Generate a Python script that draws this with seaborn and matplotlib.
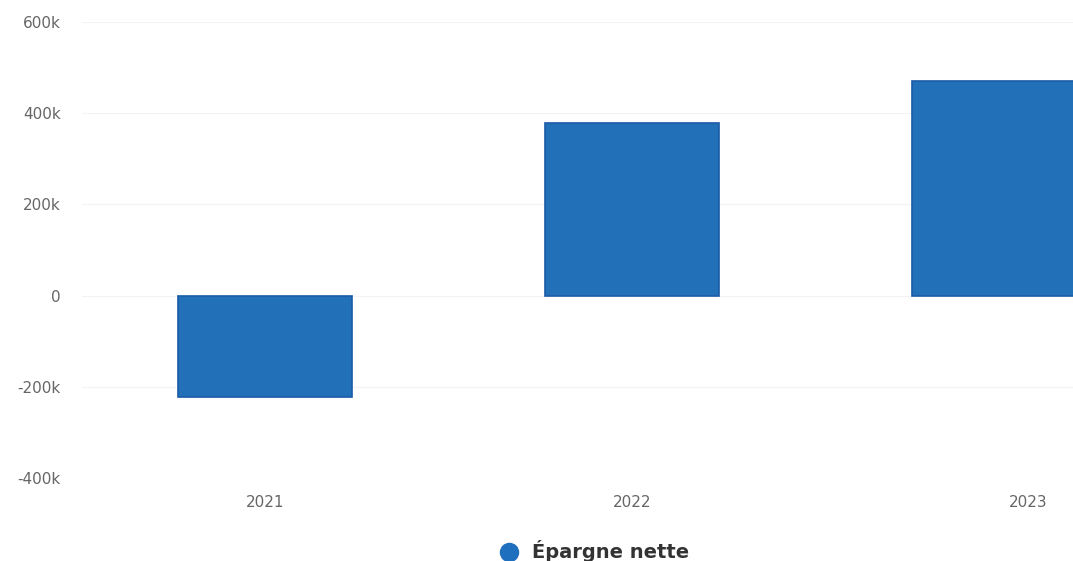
import matplotlib
matplotlib.use("Agg")
import pandas as pd
import seaborn as sns
import matplotlib.pyplot as plt
import matplotlib.transforms as mtransforms
from matplotlib.lines import Line2D
from matplotlib.ticker import FuncFormatter

# valeurs
annees = ["2021", "2022", "2023"]
epargne_nette = [-222000, 378000, 470000]
serie = "Épargne nette"

df = pd.DataFrame({"annee": annees, "valeur": epargne_nette})

sns.set_style("white")
plt.rcParams['font.family'] = ['DejaVu Sans']

fig = plt.figure(figsize=(10.73, 5.61), dpi=100)
# l'axe déborde à droite comme sur la capture
ax = fig.add_axes([0.076, 0.148, 1.026, 0.813])

sns.barplot(data=df, x="annee", y="valeur", color="#2170B8", width=0.474,
            saturation=1, edgecolor="#1A5BA6", linewidth=1.2, ax=ax, zorder=3)

ax.set_ylim(-400000, 600000)
ax.set_yticks([-400000, -200000, 0, 200000, 400000, 600000])

def fmt_k(v, pos):
    if v == 0:
        return "0"
    return f"{int(v / 1000)}k"

ax.yaxis.set_major_formatter(FuncFormatter(fmt_k))
ax.grid(axis="y", color="#f3f3f3", linewidth=0.8, zorder=0)
for s in ax.spines.values():
    s.set_visible(False)
ax.tick_params(axis="both", length=0, labelsize=11, labelcolor="#666666")
ax.tick_params(axis="y", pad=15)
ax.tick_params(axis="x", pad=12)
ax.set_xlabel("")
ax.set_ylabel("")

# le dernier libellé est décalé vers la droite dans la capture
fig.canvas.draw()
dernier = ax.get_xticklabels()[-1]
dernier.set_transform(dernier.get_transform() +
                      mtransforms.ScaledTranslation(0.29, 0, fig.dpi_scale_trans))

handle = Line2D([], [], marker="o", linestyle="", markersize=13,
                markerfacecolor="#1F6FBF", markeredgecolor="#1F6FBF")
fig.legend([handle], [serie], loc="center", bbox_to_anchor=(0.549, 0.017),
           frameon=False, prop={"weight": "bold", "size": 14},
           handletextpad=0.2, labelcolor="#333333")

plt.savefig("out.png", dpi=100)
